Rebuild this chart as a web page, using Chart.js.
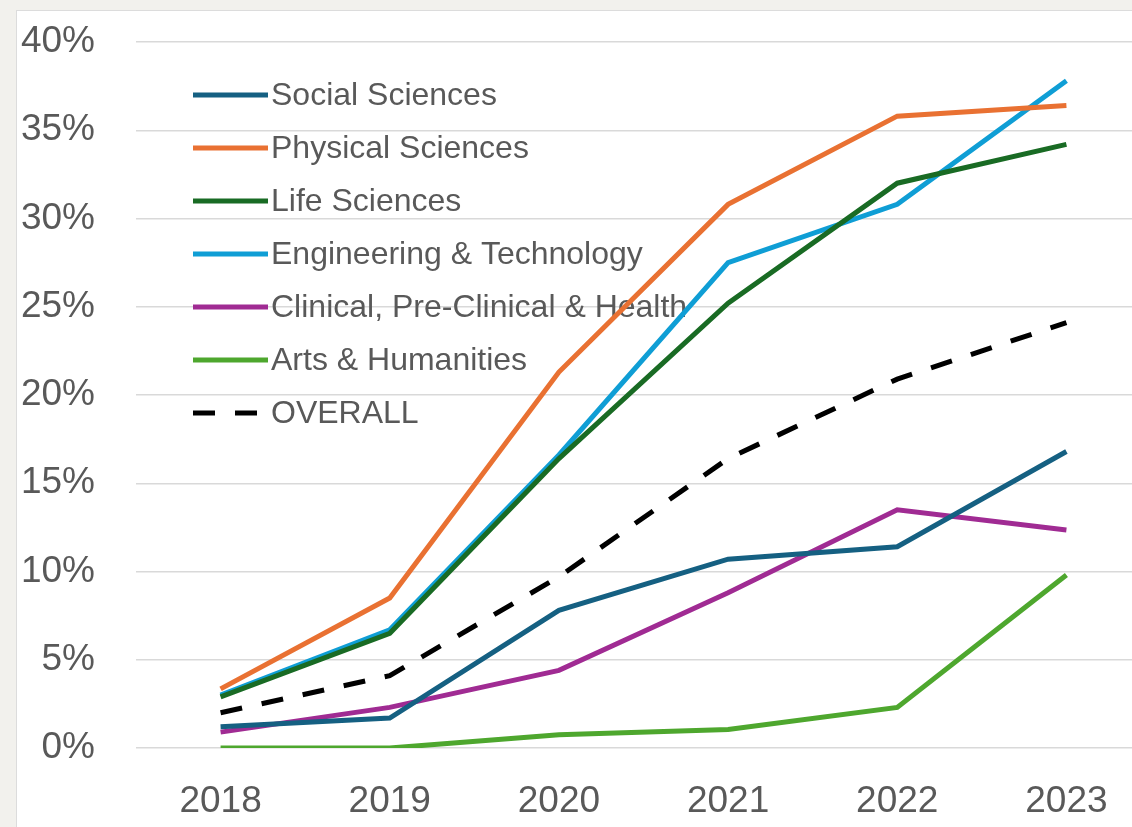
<!DOCTYPE html>
<html>
<head>
<meta charset="utf-8">
<script src="https://cdn.jsdelivr.net/npm/chart.js@4"></script>
<style>
  html, body { margin: 0; padding: 0; background: #f2f1ed; overflow: hidden; width: 1132px; height: 827px; }
  #panel { position: absolute; left: 16px; top: 10px; width: 1200px; height: 900px; background: #fff; border-left: 1px solid #dcdcdc; border-top: 1px solid #dcdcdc; }
  #wrap { position: absolute; left: 0; top: 0; width: 1151px; height: 827px; }
</style>
</head>
<body>
<div id="panel"></div>
<div id="wrap"><canvas id="c"></canvas></div>
<script>
// Share by subject area, 2018-2023
var years = ['2018', '2019', '2020', '2021', '2022', '2023'];
var socialSciences   = [1.2, 1.7, 7.8, 10.7, 11.4, 16.8];
var physicalSciences = [3.35, 8.5, 21.3, 30.8, 35.8, 36.4];
var lifeSciences     = [2.9, 6.5, 16.4, 25.2, 32.0, 34.2];
var engineering      = [3.0, 6.7, 16.6, 27.5, 30.8, 37.8];
var clinical         = [0.9, 2.3, 4.4, 8.8, 13.5, 12.35];
var arts             = [0.0, 0.0, 0.75, 1.05, 2.3, 9.8];
var overall          = [2.0, 4.1, 9.7, 16.4, 20.9, 24.1];

var seriesNames = ['Social Sciences', 'Physical Sciences', 'Life Sciences', 'Engineering & Technology',
  'Clinical, Pre-Clinical & Health', 'Arts & Humanities', 'OVERALL'];
var seriesData = [socialSciences, physicalSciences, lifeSciences, engineering, clinical, arts, overall];
var colores = ['#156082', '#e97132', '#196b24', '#0f9ed5', '#a02b93', '#4ea72e', '#000000'];

var FONT = '"Liberation Sans", Arial, sans-serif';
var GRIS = '#595959';

var datasets = seriesData.map(function (d, i) {
  return {
    label: seriesNames[i],
    data: d,
    borderColor: colores[i],
    backgroundColor: colores[i],
    borderWidth: 5,
    borderDash: i === 6 ? [22, 20] : [],
    pointRadius: 0,
    tension: 0,
    fill: false
  };
});

// Leyenda dentro del área del gráfico, sin fondo
var leyenda = {
  id: 'leyenda',
  beforeDatasetsDraw: function (chart) {
    var ctx = chart.ctx;
    ctx.save();
    ctx.font = '32px ' + FONT;
    ctx.textBaseline = 'middle';
    chart.data.datasets.forEach(function (ds, i) {
      var y = 95 + i * 53;
      ctx.strokeStyle = ds.borderColor;
      ctx.lineWidth = 5;
      ctx.setLineDash(ds.borderDash || []);
      ctx.beginPath();
      ctx.moveTo(193, y);
      ctx.lineTo(268, y);
      ctx.stroke();
      ctx.setLineDash([]);
      ctx.fillStyle = GRIS;
      ctx.fillText(ds.label, 271, y + 1);
    });
    ctx.restore();
  }
};

new Chart(document.getElementById('c').getContext('2d'), {
  type: 'line',
  data: { labels: years, datasets: datasets },
  options: {
    responsive: true,
    maintainAspectRatio: false,
    animation: false,
    layout: { padding: { top: 42, left: 0, right: 0, bottom: 0 } },
    plugins: { legend: { display: false }, tooltip: { enabled: false } },
    scales: {
      x: {
        offset: true,
        grid: { display: false, drawTicks: false },
        border: { display: false },
        ticks: { color: GRIS, font: { family: FONT, size: 37 }, padding: 32, maxRotation: 0 },
        afterFit: function (s) { s.height = 79; s.paddingLeft = 0; s.paddingRight = 0; }
      },
      y: {
        min: 0,
        max: 40,
        grid: { color: '#d9d9d9', lineWidth: 1.5, drawTicks: false },
        border: { display: false },
        ticks: { stepSize: 5, color: GRIS, font: { family: FONT, size: 37 }, padding: 41,
          callback: function (v) { return v + '%'; } },
        afterFit: function (s) { s.width = 136; s.paddingTop = 0; s.paddingBottom = 0; }
      }
    }
  },
  plugins: [leyenda]
});
</script>
</body>
</html>
